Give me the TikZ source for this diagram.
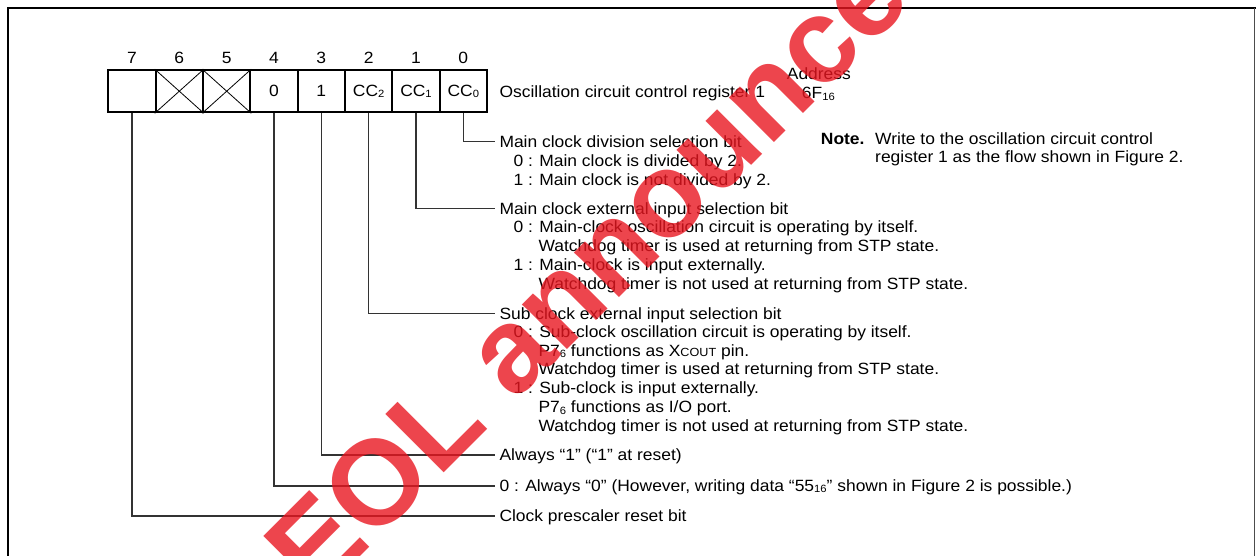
\documentclass[tikz,border=0pt]{standalone}
\usepackage{fontspec}
\setmainfont{Liberation Sans}[FakeStretch=1.07]
\newfontfamily\wmfont{Liberation Sans}
\newcommand{\lowsub}[1]{\raisebox{-1.2pt}{\fontsize{10.5}{10.5}\selectfont #1}}
\newcommand{\smc}[1]{{\fontsize{11.8}{11.8}\selectfont #1}}
\definecolor{wmred}{RGB}{232,22,32}
\begin{document}
\begin{tikzpicture}[x=1pt,y=-1pt,font=\fontsize{16.3}{19}\selectfont,
  cell/.style={draw,line width=1.8pt,minimum width=47.33pt,minimum height=42.3pt,inner sep=0pt,anchor=center},
  num/.style={inner sep=0pt,anchor=center},
  lbl/.style={anchor=west,inner xsep=4.3pt,inner ysep=0pt,text height=11.7pt,text depth=0pt},
  conn/.style={draw=black!80,line width=1.4pt},
  xcross/.style={line width=0.8pt}]
\useasboundingbox (0,0) rectangle (1256,555);
% frame
\draw[line width=2.7pt] (8,556) -- (8,8) -- (1256,8);
\draw[line width=1.5pt,black!70] (1254.5,8) -- (1254.5,556);
% register cells
\node[cell] (c7) at (132.0,91.2) {};
\node[cell] (c6) at (179.3,91.2) {};
\node[cell] (c5) at (226.7,91.2) {};
\node[cell] (c4) at (274.0,91.2) {0};
\node[cell] (c3) at (321.3,91.2) {1};
\node[cell] (c2) at (368.7,91.2) {CC\lowsub{2}};
\node[cell] (c1) at (416.0,91.2) {CC\lowsub{1}};
\node[cell] (c0) at (463.3,91.2) {CC\lowsub{0}};
\draw[xcross] (c6.north west) -- (c6.south east) (c6.south west) -- (c6.north east);
\draw[xcross] (c5.north west) -- (c5.south east) (c5.south west) -- (c5.north east);
% bit numbers
\foreach \b/\xx in {7/132.0,6/179.3,5/226.7,4/274.0,3/321.3,2/368.7,1/416.0,0/463.3}
  \node[num] (n\b) at (\xx,58) {\b};
% register name and address
\node[lbl] (reg) at (495,91.7) {Oscillation circuit control register 1};
\node[lbl] (addr) at (782.4,73.3) {Address};
\node[lbl] (addrv) at (797.4,93) {6F\lowsub{16}};
% note
\node[lbl] (note) at (816.4,138.3) {\bfseries Note.};
\node[lbl] (note1) at (870.7,138.3) {Write to the oscillation circuit control};
\node[lbl] (note2) at (870.7,156.7) {register 1 as the flow shown in Figure 2.};
% bit 0
\node[lbl] (l0) at (495,141.7) {Main clock division selection bit};
\node[lbl] (l0a) at (509,160.3) {0 : Main clock is divided by 2.};
\node[lbl] (l0b) at (509,179.4) {1 : Main clock is not divided by 2.};
% bit 1
\node[lbl] (l1) at (495,208.3) {Main clock external input selection bit};
\node[lbl] (l1a) at (509,227.0) {0 : Main-clock oscillation circuit is operating by itself.};
\node[lbl] (l1b) at (534,245.7) {Watchdog timer is used at returning from STP state.};
\node[lbl] (l1c) at (509,264.3) {1 : Main-clock is input externally.};
\node[lbl] (l1d) at (534,283.3) {Watchdog timer is not used at returning from STP state.};
% bit 2
\node[lbl] (l2) at (495,313.2) {Sub clock external input selection bit};
\node[lbl] (l2a) at (509,331.7) {0 : Sub-clock oscillation circuit is operating by itself.};
\node[lbl] (l2b) at (534,350.4) {P7\lowsub{6} functions as X\smc{COUT} pin.};
\node[lbl] (l2c) at (534,369.0) {Watchdog timer is used at returning from STP state.};
\node[lbl] (l2d) at (509,388.0) {1 : Sub-clock is input externally.};
\node[lbl] (l2e) at (534,407.0) {P7\lowsub{6} functions as I/O port.};
\node[lbl] (l2f) at (534,425.5) {Watchdog timer is not used at returning from STP state.};
% bits 3, 4, 7
\node[lbl] (l3) at (495,455.0) {Always “1” (“1” at reset)};
\node[lbl] (l4) at (495,485.8) {0 : Always “0” (However, writing data “55\lowsub{16}” shown in Figure 2 is possible.)};
\node[lbl] (l7) at (495,515.8) {Clock prescaler reset bit};
% connectors
\draw[conn] (c0.south) |- (l0.west);
\draw[conn] (c1.south) |- (l1.west);
\draw[conn] (c2.south) |- (l2.west);
\draw[conn] (c3.south) |- (l3.west);
\draw[conn] (c4.south) |- (l4.west);
\draw[conn] (c7.south) |- (l7.west);
% watermark
\node[anchor=base west,rotate=45,inner sep=0pt,text=wmred,opacity=0.8,
      font=\wmfont\bfseries\fontsize{120}{120}\selectfont] (wm) at (316,601) {EOL announced};
\end{tikzpicture}
\end{document}
